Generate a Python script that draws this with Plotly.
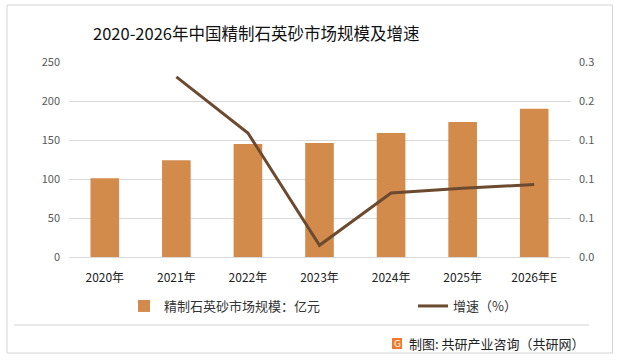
import plotly.graph_objects as go

years = ["2020年", "2021年", "2022年", "2023年", "2024年", "2025年", "2026年E"]
market_size = [101, 124, 145, 146, 159, 173, 190]
growth = [None, 0.231, 0.159, 0.015, 0.082, 0.088, 0.093]
left_ticks = [0, 50, 100, 150, 200, 250]
right_ticks = [0, 0.05, 0.10, 0.15, 0.20, 0.25]

W, H = 619, 360
L, R, T, B = 69, 570, 62, 257
FONT = "Noto Sans CJK SC"

def px(x):
    return (x - L) / (R - L)

def py(y):
    return (B - y) / (B - T)

fig = go.Figure()
fig.add_trace(go.Bar(
    x=years, y=market_size, name="精制石英砂市场规模：亿元",
    marker=dict(color="#D38B4C", line=dict(width=0)), yaxis="y", legend="legend",
))
fig.add_trace(go.Scatter(
    x=years, y=growth, name="增速（%）", mode="lines",
    line=dict(color="#6B4A2F", width=3), yaxis="y2", legend="legend2",
))

leg_common = dict(orientation="h", yanchor="middle", y=py(306), xanchor="left",
                  font=dict(size=13, color="#333333", family=FONT),
                  bgcolor="rgba(0,0,0,0)", itemwidth=30)

fig.update_layout(
    width=W, height=H,
    margin=dict(l=L, r=W - R, t=T, b=H - B),
    paper_bgcolor="white", plot_bgcolor="white",
    font=dict(family=FONT, color="#595959", size=11),
    bargap=0.6,
    showlegend=True,
    legend=dict(x=px(124), **leg_common),
    legend2=dict(x=px(413), **leg_common),
    xaxis=dict(
        type="category", showgrid=False, showline=True, linecolor="#d9d9d9",
        tickfont=dict(size=12, color="#222222"), ticks="", ticklabelstandoff=10,
    ),
    yaxis=dict(
        range=[0, 250], tickvals=left_ticks, showgrid=True, gridcolor="#d9d9d9",
        zeroline=False, ticks="", ticklabelstandoff=8,
    ),
    yaxis2=dict(
        range=[0, 0.25], tickvals=right_ticks, tickformat=".1f", overlaying="y",
        side="right", showgrid=False, zeroline=False, ticks="", ticklabelstandoff=8,
    ),
    shapes=[
        dict(type="rect", xref="paper", yref="paper", x0=px(7), x1=px(612.5),
             y0=py(353), y1=py(5), line=dict(color="#d4d4d4", width=1)),
        dict(type="line", xref="paper", yref="paper", x0=px(14), x1=px(589),
             y0=py(325), y1=py(325), line=dict(color="#d4d4d4", width=1)),
        dict(type="rect", xref="paper", yref="paper", x0=px(392), x1=px(402),
             y0=py(349), y1=py(338), fillcolor="#F07A2A", line=dict(width=0)),
    ],
    annotations=[
        dict(text="2020-2026年中国精制石英砂市场规模及增速", xref="paper", yref="paper",
             x=px(256), y=py(33), xanchor="center", yanchor="middle", showarrow=False,
             font=dict(size=16.5, color="#111111", family=FONT)),
        dict(text="G", xref="paper", yref="paper", x=px(397), y=py(343.5),
             xanchor="center", yanchor="middle", showarrow=False,
             font=dict(size=9, color="white", family="DejaVu Sans")),
        dict(text="制图: 共研产业咨询（共研网）", xref="paper", yref="paper",
             x=px(407), y=py(343), xanchor="left", yanchor="middle", showarrow=False,
             font=dict(size=13, color="#222222", family=FONT)),
    ],
)

fig.write_html("out.html", config={"displayModeBar": False},
               post_script="document.body.style.margin='0';document.body.style.padding='0';")
